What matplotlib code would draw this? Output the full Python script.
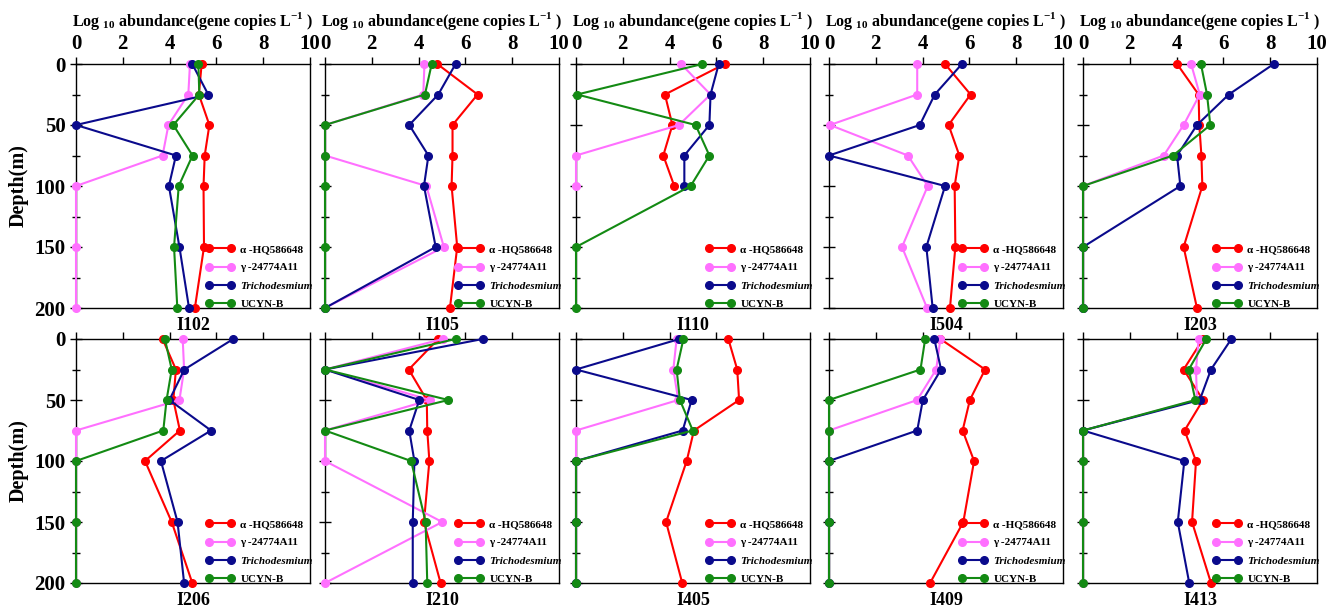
import numpy as np
import matplotlib
matplotlib.use("Agg")
from matplotlib import pyplot as plt
from matplotlib.ticker import MultipleLocator

nan = np.nan

depths = [0, 25, 50, 75, 100, 150, 200]
stations = ['I102', 'I105', 'I110', 'I504', 'I203',
            'I206', 'I210', 'I405', 'I409', 'I413']

# log10 gene copies per litre, one row per station (order as stations)
alpha = [[5.37, 5.25, 5.7, 5.5, 5.45, 5.47, 5.08],
         [4.8, 6.52, 5.45, 5.45, 5.41, 5.65, 5.34],
         [6.35, 3.8, 4.12, 3.73, 4.2, nan, nan],
         [4.96, 6.05, 5.11, 5.57, 5.37, 5.4, 5.17],
         [4.02, 4.94, 4.97, 5.06, 5.1, 4.3, 4.87],
         [3.7, 4.27, 4.16, 4.44, 2.95, 4.09, 4.97],
         [4.84, 3.58, 4.35, 4.37, 4.46, 4.23, 4.94],
         [6.51, 6.89, 6.97, 5.04, 4.73, 3.85, 4.54],
         [4.76, 6.67, 6.02, 5.71, 6.2, 5.74, 4.32],
         [5.13, 4.3, 5.13, 4.34, 4.83, 4.66, 5.47]]

gamma = [[4.87, 4.8, 3.95, 3.7, 0, 0, 0],
         [4.25, 4.2, 0, 0, 4.33, 5.08, 0],
         [4.49, 5.75, 4.4, 0, 0, nan, nan],
         [3.77, 3.77, 0.04, 3.37, 4.22, 3.12, 4.19],
         [4.62, 4.99, 4.3, 3.45, 0, 0, 0],
         [4.56, 4.62, 4.42, 0, 0, 0, 0],
         [5.03, 0, 4.49, 0, 0, 5.01, 0],
         [4.3, 4.16, 4.37, 0, 0, 0, 0],
         [4.76, 4.58, 3.77, 0, 0, 0, 0],
         [4.94, 4.83, 4.87, 0, 0, 0, 0]]

tricho = [[4.97, 5.65, 0, 4.27, 3.97, 4.42, 4.83],
          [5.58, 4.84, 3.6, 4.42, 4.23, 4.73, 0],
          [6.1, 5.75, 5.7, 4.63, 4.63, nan, nan],
          [5.68, 4.52, 3.88, 0, 4.96, 4.16, 4.43],
          [8.15, 6.23, 4.87, 4.02, 4.16, 0, 0],
          [6.72, 4.63, 3.99, 5.77, 3.63, 4.34, 4.62],
          [6.74, 0, 4.03, 3.6, 3.82, 3.75, 3.75],
          [4.42, 0, 4.94, 4.56, 0, 0, 0],
          [4.5, 4.79, 4.01, 3.77, 0, 0, 0],
          [6.34, 5.47, 4.99, 0, 4.33, 4.05, 4.54]]

ucynb = [[5.23, 5.27, 4.16, 4.98, 4.39, 4.19, 4.33],
         [4.56, 4.27, 0, 0, 0, 0, 0],
         [5.4, 0.05, 5.11, 5.7, 4.9, 0, 0],
         [nan, nan, nan, nan, nan, nan, nan],
         [5.04, 5.3, 5.44, 3.85, 0, 0, 0],
         [3.8, 4.09, 3.87, 3.73, 0, 0, 0],
         [5.58, 0, 5.27, 0, 3.68, 4.3, 4.37],
         [4.59, 4.3, 4.44, 4.99, 0, 0, 0],
         [4.11, 3.91, 0, 0, 0, 0, 0],
         [5.27, 4.52, 4.8, 0, 0, 0, 0]]

labels = ['\u03b1 -HQ586648', '\u03b3 -24774A11', 'Trichodesmium', 'UCYN-B']
colors = ['#ff0000', '#ff70ff', '#0a0a8c', '#138a13']

plt.rcParams['font.family'] = ['Liberation Serif', 'DejaVu Serif']
plt.rcParams['font.weight'] = 'bold'
plt.rcParams['mathtext.fontset'] = 'custom'
plt.rcParams['mathtext.rm'] = 'Liberation Serif:bold'
plt.rcParams['mathtext.bf'] = 'Liberation Serif:bold'

W, H = 1338, 611
fig = plt.figure(figsize=(W / 100, H / 100), dpi=100)

lefts = [76, 325, 576, 829, 1083]
tops = [64, 339]
pw, ph = 234, 244

for k, name in enumerate(stations):
    row, col = divmod(k, 5)
    ax = fig.add_axes([lefts[col] / W, 1 - (tops[row] + ph) / H, pw / W, ph / H])
    series = [alpha[k], gamma[k], tricho[k], ucynb[k]]
    for vals, lab, c in zip(series, labels, colors):
        v = np.array(vals, dtype=float)
        m = ~np.isnan(v)
        ax.plot(v[m], np.array(depths)[m], '-o', color=c, lw=1.5, ms=5.5,
                label=lab, clip_on=False, zorder=3)
    ax.set_xlim(0, 10)
    ax.set_ylim(200, 0)
    ax.xaxis.set_ticks_position('top')
    ax.xaxis.set_major_locator(MultipleLocator(2))
    ax.yaxis.set_major_locator(MultipleLocator(50))
    ax.yaxis.set_minor_locator(MultipleLocator(25))
    ax.tick_params(axis='x', direction='out', length=5, width=1, labelsize=15, pad=2)
    ax.tick_params(axis='y', which='major', direction='inout', length=8, width=1, labelsize=15)
    ax.tick_params(axis='y', which='minor', direction='inout', length=6, width=1)
    for s in ax.spines.values():
        s.set_linewidth(1)
    if row == 0:
        ax.set_xlabel('Log $_{10}$ abundance(gene copies L$^{-1}$ )', fontsize=11.5,
                      fontweight='bold', labelpad=6)
        ax.xaxis.set_label_position('top')
    else:
        ax.set_xticklabels([])
    if col == 0:
        ax.set_ylabel('Depth(m)', fontsize=14.5, fontweight='bold', labelpad=4)
    else:
        ax.set_yticklabels([])
    ax.text(0.5, -0.035, name, transform=ax.transAxes, ha='center', va='top',
            fontsize=13, fontweight='bold')
    leg = ax.legend(loc='lower right', bbox_to_anchor=(1.04, -0.03), frameon=False,
                    fontsize=8, handlelength=2.6, handletextpad=0.5, numpoints=2,
                    labelspacing=0.75, borderaxespad=0.2)
    leg.get_texts()[2].set_style('italic')
    for t in leg.get_texts():
        t.set_fontweight('bold')

fig.savefig('out.png', dpi=100)
